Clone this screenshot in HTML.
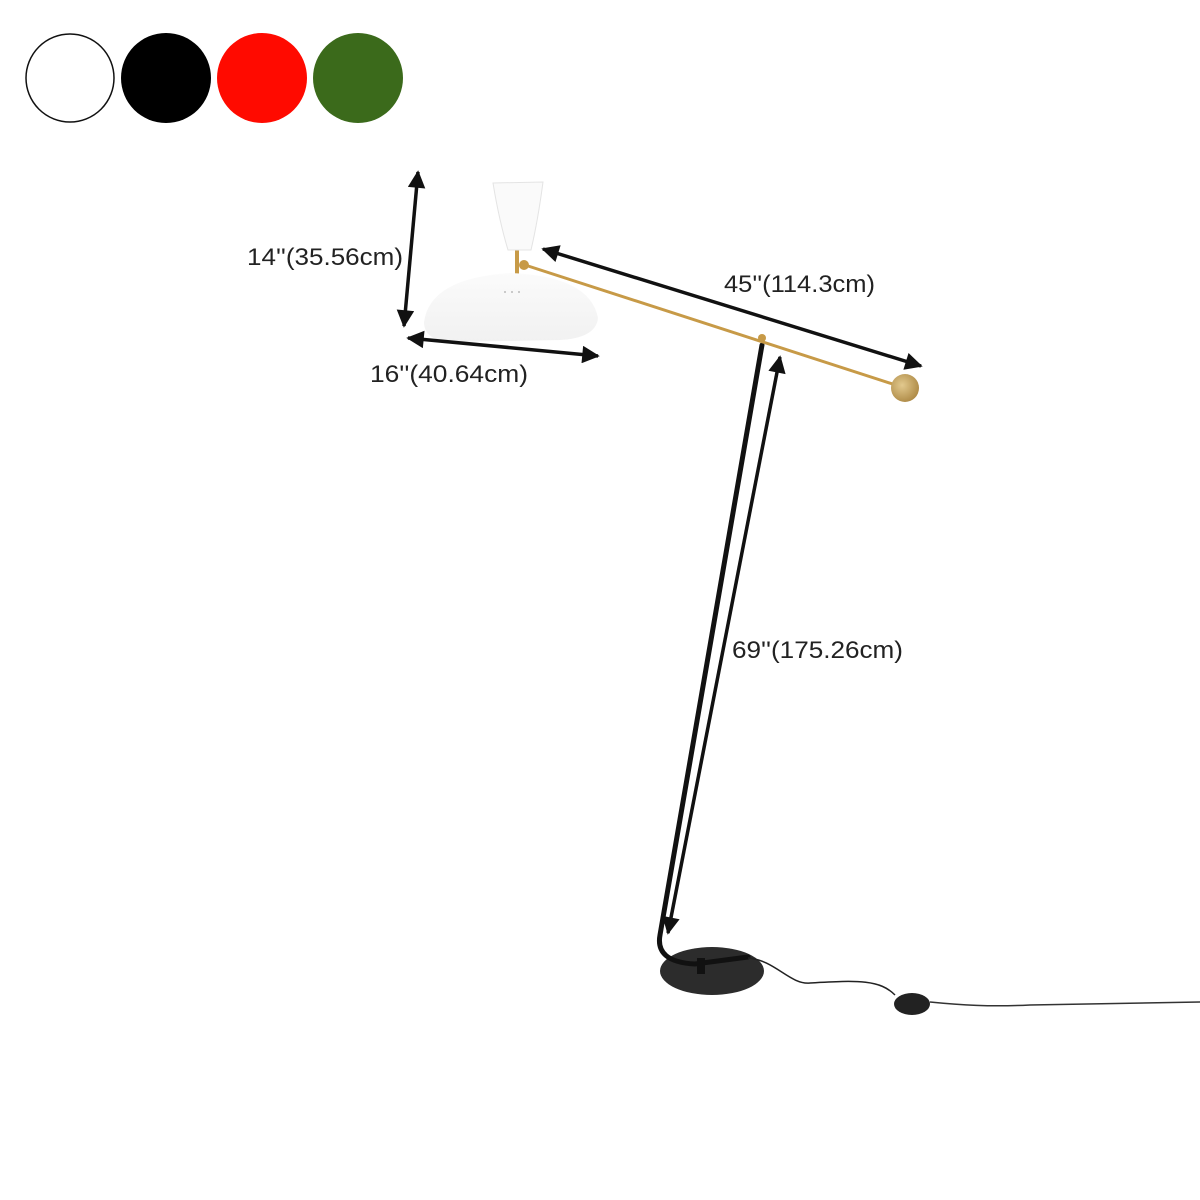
<!DOCTYPE html>
<html><head><style>
html,body{margin:0;padding:0;background:#fff;}
svg{display:block;}
text{font-family:"Liberation Sans",sans-serif;font-size:24px;fill:#222;}
</style></head><body>
<svg width="1200" height="1200" viewBox="0 0 1200 1200" xmlns="http://www.w3.org/2000/svg">
<defs>
<marker id="ah" viewBox="0 0 10 10" refX="9" refY="5" markerWidth="5.5" markerHeight="5" orient="auto-start-reverse" markerUnits="strokeWidth">
<path d="M0,0 L10,5 L0,10 z" fill="#111"/></marker>
<radialGradient id="ball" cx="0.4" cy="0.4" r="0.7"><stop offset="0" stop-color="#e2c98e"/><stop offset="1" stop-color="#a9843f"/></radialGradient>
<linearGradient id="shade" x1="0" y1="0" x2="0" y2="1"><stop offset="0" stop-color="#fbfbfb"/><stop offset="1" stop-color="#f1f1f1"/></linearGradient>
</defs>
<circle cx="70" cy="78" r="44" fill="#fff" stroke="#111" stroke-width="1.5"/>
<circle cx="166" cy="78" r="45" fill="#000"/>
<circle cx="262" cy="78" r="45" fill="#ff0a00"/>
<circle cx="358" cy="78" r="45" fill="#3b6a1b"/>

<!-- pole -->
<ellipse cx="712" cy="971" rx="52" ry="24" fill="#2c2c2c"/>
<path d="M762,345 L660,935 Q655,962 695,964 L748,957" fill="none" stroke="#111" stroke-width="5" stroke-linecap="round"/>
<rect x="697" y="958" width="8" height="16" fill="#111"/>
<!-- cord -->
<path d="M748,958 C775,960 790,985 810,983 C860,980 880,980 895,995" fill="none" stroke="#222" stroke-width="1.5"/>
<ellipse cx="912" cy="1004" rx="18" ry="11" fill="#222"/>
<path d="M930,1002 C960,1005 990,1007 1030,1005 L1200,1002" fill="none" stroke="#333" stroke-width="1.5"/>

<!-- brass arm -->
<line x1="525" y1="265" x2="905" y2="388" stroke="#c79a47" stroke-width="3"/>
<circle cx="762" cy="338" r="4" fill="#c79a47"/>
<circle cx="905" cy="388" r="14" fill="url(#ball)"/>
<line x1="517" y1="248" x2="517" y2="275" stroke="#c79a47" stroke-width="4"/>
<circle cx="524" cy="265" r="5" fill="#c79a47"/>
<!-- cone -->
<path d="M493,183 L543,182 Q538,220 531,250 L508,250 Q499,220 493,183 z" fill="#fafafa" stroke="#e4e4e4" stroke-width="1"/>
<!-- shade -->
<path d="M424,322 Q430,278 510,273 Q590,276 598,318 Q596,338 560,340 L450,342 Q424,340 424,322 z" fill="url(#shade)"/>
<circle cx="505" cy="292" r="1" fill="#bbb"/><circle cx="512" cy="292" r="1" fill="#bbb"/><circle cx="519" cy="292" r="1" fill="#bbb"/>

<!-- dimension arrows -->
<g stroke="#111" stroke-width="3.5" fill="none">
<line x1="418" y1="172" x2="404" y2="326" marker-start="url(#ah)" marker-end="url(#ah)"/>
<line x1="408" y1="338" x2="598" y2="356" marker-start="url(#ah)" marker-end="url(#ah)"/>
<line x1="543" y1="249" x2="921" y2="366" marker-start="url(#ah)" marker-end="url(#ah)"/>
<line x1="780" y1="357" x2="668" y2="933" marker-start="url(#ah)" marker-end="url(#ah)"/>
</g>

<text x="247" y="265" textLength="156" lengthAdjust="spacingAndGlyphs">14''(35.56cm)</text>
<text x="370" y="382" textLength="158" lengthAdjust="spacingAndGlyphs">16''(40.64cm)</text>
<text x="724" y="292" textLength="151" lengthAdjust="spacingAndGlyphs">45''(114.3cm)</text>
<text x="732" y="658" textLength="171" lengthAdjust="spacingAndGlyphs">69''(175.26cm)</text>
</svg>
</body></html>
